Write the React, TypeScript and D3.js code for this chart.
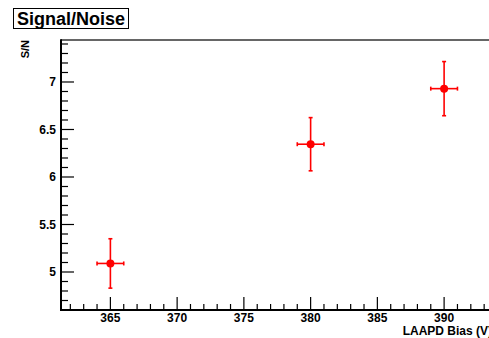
import React from "react";
import * as d3 from "d3";

const biasValues = [365, 380, 390];
const snValues = [5.09, 6.345, 6.93];
const biasErrors = [1, 1, 1];
const snErrors = [0.26, 0.28, 0.285];
const xTicks = [365, 370, 375, 380, 385, 390];
const yTicks = [5, 5.5, 6, 6.5, 7];

const W = 489;
const H = 338;
const left = 61;
const right = 493.5;
const top = 40;
const bottom = 310;

export default function App() {
  const x = d3.scaleLinear().domain([361.3, 393.7]).range([left, right]);
  const y = d3.scaleLinear().domain([4.6, 7.442]).range([bottom, top]);
  const xMinor = d3.range(362, 394, 1).filter((v) => v % 5 !== 0);
  const yMinor = d3.range(46, 75, 1).map((v) => v / 10).filter((v) => Math.round(v * 10) % 5 !== 0);
  const font = "'Liberation Sans', Arial, Helvetica, sans-serif";
  const red = "#ff0000";
  return (
    <svg width={W} height={H} style={{ position: "absolute", left: 0, top: 0 }} fontFamily={font}>
      <rect x={0} y={0} width={W} height={H} fill="#fff" />
      {/* title box */}
      <rect x={13.5} y={8.5} width={115} height={20} fill="#fff" stroke="#000" strokeWidth={1} />
      <text x={71} y={24.5} textAnchor="middle" fontSize={18} fontWeight="bold">Signal/Noise</text>
      {/* frame */}
      <line x1={left} x2={right} y1={top} y2={top} stroke="#333" strokeWidth={1.5} />
      <line x1={left} x2={left} y1={top - 0.75} y2={bottom + 1} stroke="#000" strokeWidth={2} />
      <line x1={left - 1} x2={right} y1={bottom} y2={bottom} stroke="#000" strokeWidth={2} />
      {/* y ticks */}
      {yTicks.map((t) => (
        <g key={"yt" + t}>
          <line x1={left} x2={left + 13} y1={y(t)} y2={y(t)} stroke="#000" strokeWidth={1.2} />
          <text x={56} y={y(t)} dy="0.36em" textAnchor="end" fontSize={12} fontWeight="bold">{t}</text>
        </g>
      ))}
      {yMinor.map((t) => (
        <line key={"ym" + t} x1={left} x2={left + 7} y1={y(t)} y2={y(t)} stroke="#000" strokeWidth={1.2} />
      ))}
      {/* x ticks */}
      {xTicks.map((t) => (
        <g key={"xt" + t}>
          <line x1={x(t)} x2={x(t)} y1={bottom} y2={bottom - 13} stroke="#000" strokeWidth={1.2} />
          <text x={x(t)} y={322} textAnchor="middle" fontSize={12} fontWeight="bold">{t}</text>
        </g>
      ))}
      {xMinor.map((t) => (
        <line key={"xm" + t} x1={x(t)} x2={x(t)} y1={bottom} y2={bottom - 6} stroke="#000" strokeWidth={1.2} />
      ))}
      {/* axis titles */}
      <text x={492} y={335} textAnchor="end" fontSize={12} fontWeight="bold">LAAPD Bias (V)</text>
      <text transform={`translate(29,40) rotate(-90)`} textAnchor="end" fontSize={11} fontWeight="bold">S/N</text>
      {/* data */}
      {biasValues.map((b, i) => {
        const cx = x(b);
        const cy = y(snValues[i]);
        const x0 = x(b - biasErrors[i]);
        const x1 = x(b + biasErrors[i]);
        const y0 = y(snValues[i] - snErrors[i]);
        const y1 = y(snValues[i] + snErrors[i]);
        return (
          <g key={"p" + i} stroke={red} strokeWidth={1.6}>
            <line x1={x0} x2={x1} y1={cy} y2={cy} />
            <line x1={cx} x2={cx} y1={y0} y2={y1} />
            <line x1={x0} x2={x0} y1={cy - 2} y2={cy + 2} />
            <line x1={x1} x2={x1} y1={cy - 2} y2={cy + 2} />
            <line x1={cx - 2} x2={cx + 2} y1={y0} y2={y0} />
            <line x1={cx - 2} x2={cx + 2} y1={y1} y2={y1} />
            <circle cx={cx} cy={cy} r={4} fill={red} stroke="none" />
          </g>
        );
      })}
    </svg>
  );
}
